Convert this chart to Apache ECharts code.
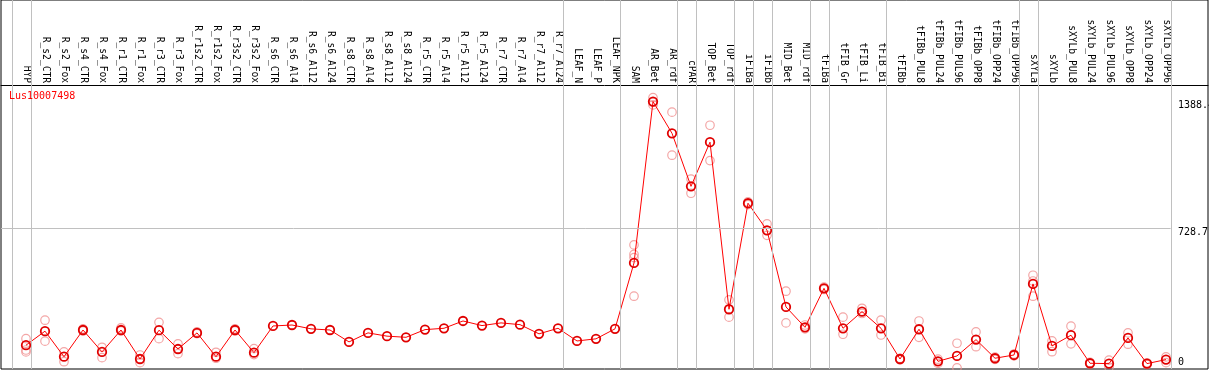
<!DOCTYPE html>
<html><head><meta charset="utf-8">
<script src="https://cdn.jsdelivr.net/npm/echarts@6/dist/echarts.min.js"></script>
<style>html,body{margin:0;padding:0;background:#fff}#c{width:1209px;height:370px}</style>
</head><body><div id="c"></div>
<script>
const categories = ['HYP','R_s2_CTR','R_s2_Fox','R_s4_CTR','R_s4_Fox','R_r1_CTR','R_r1_Fox','R_r3_CTR','R_r3_Fox',
 'R_r1s2_CTR','R_r1s2_Fox','R_r3s2_CTR','R_r3s2_Fox','R_s6_CTR','R_s6_Al4','R_s6_Al12','R_s6_Al24',
 'R_s8_CTR','R_s8_Al4','R_s8_Al12','R_s8_Al24','R_r5_CTR','R_r5_Al4','R_r5_Al12','R_r5_Al24',
 'R_r7_CTR','R_r7_Al4','R_r7_Al12','R_r7_Al24','LEAF_N','LEAF_P','LEAF_NPK','SAM','AR_Bet','AR_rdf',
 'cPAR','TOP_Bet','TOP_rdf','iFIBa','iFIBb','MID_Bet','MID_rdf','tFIBa','tFIB_Gr','tFIB_Li','tFIB_Bi',
 'tFIBb','tFIBb_PUL8','tFIBb_PUL24','tFIBb_PUL96','tFIBb_OPP8','tFIBb_OPP24','tFIBb_OPP96',
 'sXYLa','sXYLb','sXYLb_PUL8','sXYLb_PUL24','sXYLb_PUL96','sXYLb_OPP8','sXYLb_OPP24','sXYLb_OPP96'];

const means = [120,193,60,199,85,199,48,198,100,184,60,199,81,220,225,205,199,137,184,167,161,
 201,208,246,222,236,227,179,208,142,153,205,548,1388.4,1223,947,1177,307,859,718,319,213,416,
 208,295,208,48,203,36,64,149,52,69,439,116,172,26,24,158,24,45];

const replicates = [[154,95,85],[250,141],[85,34],[205,194],[109,55],[210,194],[69,29],[239,154],
 [127,76],[189,180],[83,52],[205,194],[102,71],
 [],[],[],[],[],[],[],[],[],[],[],[],[],[],[],[],[],[],[],
 [642,593,576,375],[1409,1385,1371],[1333,1109],[985,911],[1265,1081],[356,266],[866,852],
 [751,692],[401,236],[225,205],[422,410],[266,177],[312,285],[250,173],[52,44],[246,161],
 [47,25],[130,2],[189,112],[58,46],[74,64],[484,454,375],[142,86],[219,127],[30,22],[42,5],
 [184,125],[28,20],[59,29]];

const groupSizes = [1,28,3,3,1,2,1,1,2,1,3,7,1,7];
const yTickLabels = [0, 728.7, 1388.4];
const titleText = 'Lus10007498';

const FONT = 'DejaVu Sans Mono';
const boundaries = [];
let end = -1;
boundaries.push(end + 0.247);
groupSizes.forEach(s => { end += s; boundaries.push(end + 0.247); });

const meanData = means.map((v, i) => [i, v]);
const repData = [];
replicates.forEach((arr, i) => arr.forEach(v => repData.push([i, v])));

const X_MIN = -25 / 19, X_MAX = X_MIN + 1207 / 19;

const chart = echarts.init(document.getElementById('c'), null, {renderer: 'canvas'});
chart.setOption({
  animation: false,
  title: {text: titleText, left: 9, top: 91, padding: 0,
    textStyle: {color: '#ff0000', fontFamily: FONT, fontSize: 10, fontWeight: 'normal'}},
  grid: {left: 1, right: 1, top: 0, bottom: 1, show: true, borderColor: '#000', borderWidth: 1,
    containLabel: false, outerBoundsMode: 'none'},
  xAxis: {type: 'value', position: 'top', offset: -85, min: X_MIN, max: X_MAX,
    axisLine: {show: true, onZero: false, lineStyle: {color: '#000', width: 1}},
    axisTick: {show: false}, splitLine: {show: false},
    axisLabel: {customValues: categories.map((_, i) => i), rotate: 90, margin: 2, hideOverlap: false,
      formatter: v => categories[Math.round(v)] || '', fontFamily: FONT, fontSize: 9.6, color: '#000'}},
  yAxis: {type: 'value', position: 'right', min: -4, max: 1917,
    axisLine: {show: false}, axisTick: {show: false}, splitLine: {show: false},
    axisLabel: {inside: true, margin: 30, align: 'left', verticalAlign: 'middle', customValues: yTickLabels,
      color: '#000', fontFamily: FONT, fontSize: 10,
      formatter: v => v === 0 ? '{z|0}' : '{a|' + v + '}',
      rich: {
        a: {padding: [8, 0, 0, 0], fontFamily: FONT, fontSize: 10, color: '#000'},
        z: {padding: [0, 0, 12, 0], fontFamily: FONT, fontSize: 10, color: '#000'}
      }}},
  series: [
    {type: 'scatter', data: [], z: 1, silent: true,
      markLine: {silent: true, symbol: ['none', 'none'], label: {show: false}, animation: false,
        lineStyle: {color: '#c0c0c0', width: 1, type: 'solid'},
        data: boundaries.map(b => ({xAxis: b})).concat([
          [{coord: [X_MIN, yTickLabels[1]]}, {coord: [boundaries[boundaries.length - 1], yTickLabels[1]]}]
        ])}},
    {type: 'scatter', data: repData, z: 2, symbol: 'circle', symbolSize: 8.5,
      itemStyle: {color: 'transparent', borderColor: '#f09090', borderWidth: 1.2}},
    {type: 'line', data: meanData, z: 3, symbol: 'circle', symbolSize: 8.5,
      lineStyle: {color: '#ff0000', width: 1},
      itemStyle: {color: 'transparent', borderColor: '#e00000', borderWidth: 1.8}}
  ]
});
</script></body></html>
